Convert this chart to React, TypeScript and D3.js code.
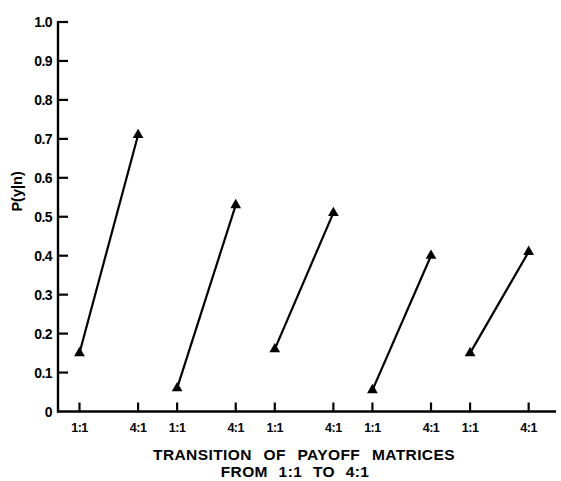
import React from "react";
import * as d3 from "d3";

const yTicks = [0, 0.1, 0.2, 0.3, 0.4, 0.5, 0.6, 0.7, 0.8, 0.9, 1.0];
const yTickLabels = ["0", "0.1", "0.2", "0.3", "0.4", "0.5", "0.6", "0.7", "0.8", "0.9", "1.0"];
const conditions = ["1:1", "4:1"];
const groups = [1, 2, 3, 4, 5];
const before = [0.15, 0.06, 0.16, 0.055, 0.15];
const after = [0.71, 0.53, 0.51, 0.4, 0.41];

const W = 561;
const H = 481;

export default function App() {
  const y = d3.scaleLinear().domain([0, 1]).range([411.5, 22]);
  // position units: each group spans 1:1 at 2.5g, 4:1 at 2.5g+1.5
  const x = d3.scaleLinear().domain([-0.55, 12.2]).range([58, 556]);
  const pos = (g: number, c: number) => x(2.5 * g + (c === 0 ? 0 : 1.5));
  const tri = d3.symbol(d3.symbolTriangle, 50)() as string;
  const font = "'Liberation Sans', Arial, sans-serif";

  return (
    <svg width={W} height={H} style={{ position: "absolute", left: 0, top: 0, background: "#fff" }}>
      {/* axes */}
      <line x1={x.range()[0]} x2={x.range()[0]} y1={y(1) - 1} y2={y(0) + 1} stroke="#000" strokeWidth={2.4} />
      <line x1={x.range()[0] - 1} x2={x.range()[1]} y1={y(0)} y2={y(0)} stroke="#000" strokeWidth={2.4} />
      {yTicks.map((t, i) => (
        <g key={"yt" + i}>
          {t > 0 && (
            <line x1={x.range()[0]} x2={x.range()[0] + 10} y1={y(t)} y2={y(t)} stroke="#000" strokeWidth={2.2} />
          )}
          <text
            x={x.range()[0] - 6}
            y={y(t)}
            dy="0.36em"
            textAnchor="end"
            fontFamily={font}
            fontWeight="bold"
            fontSize={14}
            letterSpacing={-0.6}
          >
            {yTickLabels[i]}
          </text>
        </g>
      ))}
      {groups.map((g, gi) =>
        conditions.map((c, ci) => (
          <g key={"xt" + gi + ci}>
            <line x1={pos(gi, ci)} x2={pos(gi, ci)} y1={y(0)} y2={y(0) - 9} stroke="#000" strokeWidth={2.2} />
            <text
              x={pos(gi, ci)}
              y={y(0) + 15.5}
              dy="0.36em"
              textAnchor="middle"
              fontFamily={font}
              fontWeight="bold"
              fontSize={12.5}
              letterSpacing={-0.5}
            >
              {c}
            </text>
          </g>
        ))
      )}
      {/* y label */}
      <text
        transform={`translate(17,${y(0.565)}) rotate(-90)`}
        dy="0.36em"
        textAnchor="middle"
        fontFamily={font}
        fontWeight="bold"
        fontSize={14.5}
      >
        P(y|n)
      </text>
      {/* x label */}
      <text x={304} y={454} dy="0.36em" textAnchor="middle" fontFamily={font} fontWeight="bold" fontSize={15.5} letterSpacing={0.4} wordSpacing={7}>
        TRANSITION OF PAYOFF MATRICES
      </text>
      <text x={295} y={471.5} dy="0.36em" textAnchor="middle" fontFamily={font} fontWeight="bold" fontSize={15.5} letterSpacing={0.4} wordSpacing={6}>
        FROM 1:1 TO 4:1
      </text>
      {/* data */}
      {groups.map((g, gi) => (
        <g key={"d" + gi}>
          <line
            x1={pos(gi, 0)}
            y1={y(before[gi])}
            x2={pos(gi, 1)}
            y2={y(after[gi])}
            stroke="#000"
            strokeWidth={2.2}
          />
          <path d={tri} transform={`translate(${pos(gi, 0)},${y(before[gi])})`} fill="#000" />
          <path d={tri} transform={`translate(${pos(gi, 1)},${y(after[gi])})`} fill="#000" />
        </g>
      ))}
    </svg>
  );
}
